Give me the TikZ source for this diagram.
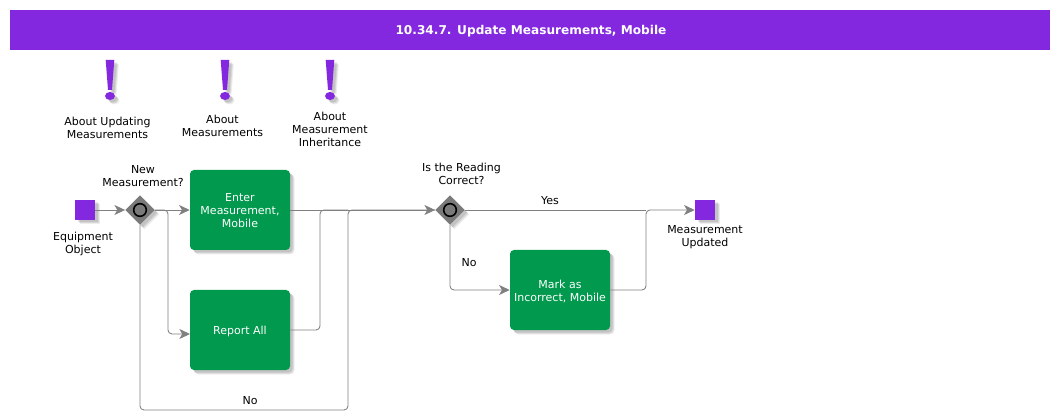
\documentclass[tikz,border=0pt]{standalone}
\usepackage{fontspec}
\setmainfont{DejaVu Sans}
\usetikzlibrary{shapes.geometric,arrows.meta,shadows}
\definecolor{bpurple}{HTML}{8428E0}
\definecolor{bgreen}{HTML}{00994D}
\definecolor{bline}{HTML}{808080}
\definecolor{bgate}{HTML}{7A7A7A}
\tikzset{
  softshadow/.style={
    general shadow={shadow xshift=4.5,shadow yshift=4.5,fill=black,opacity=.07},
    general shadow={shadow xshift=3.5,shadow yshift=3.5,fill=black,opacity=.09},
    general shadow={shadow xshift=2.5,shadow yshift=2.5,fill=black,opacity=.09}},
  lbl/.style={font=\fontsize{8.25}{9.75}\selectfont,align=center,inner sep=0pt,text=black},
  tasktext/.style={lbl,text=white},
  taskbox/.style={draw=none,fill=bgreen,rounded corners=3,minimum width=75pt,minimum height=60pt,inner sep=0pt,softshadow},
  endsquare/.style={draw=none,fill=bpurple,minimum size=15pt,inner sep=0pt,softshadow},
  gate/.style={diamond,aspect=1,draw=none,fill=bgate,minimum size=22pt,inner sep=0pt,softshadow},
  gatering/.style={circle,draw=black,line width=1.2pt,fill=bgate,minimum size=9.5pt,inner sep=0pt},
  flow/.style={draw=bline,line width=.65pt,rounded corners=3},
  arrowflow/.style={flow,-{Stealth[length=8pt,width=7.5pt,inset=2.2pt]}},
  markshape/.style={fill=bpurple,draw=none,softshadow}
}
\newcommand{\exclaim}[1]{%
  \begin{scope}[shift={(#1,0)}]
    \path[markshape] (-4.3,60) -- (4.3,60) -- (2,90) -- (-2,90) -- cycle;
    \path[markshape] (0,96) ellipse [x radius=5,y radius=4];
  \end{scope}}
\begin{document}
\begin{tikzpicture}[x=.75pt,y=-.75pt]
\useasboundingbox (0,0) rectangle (1060,420);
\fill[white] (0,0) rectangle (1060,420);
\node[fill=bpurple,minimum width=780pt,minimum height=30pt,inner sep=0pt] (title) at (530,30) {};
\node[text=white,inner sep=0pt,font=\fontsize{9.1}{12}\selectfont\bfseries] (titletext) at (531,31) {10.34.7. Update Measurements, Mobile};

\exclaim{110}\exclaim{225}\exclaim{330}
\node[lbl] (m1) at (107.5,128) {About Updating\\Measurements};
\node[lbl] (m2) at (222.5,126) {About\\Measurements};
\node[lbl] (m3) at (330,129.5) {About\\Measurement\\Inheritance};

\node[endsquare] (start) at (85,210) {};
\node[gate] (gw1) at (140,210) {};
\node[gatering] (ring1) at (140,210) {};
\node[taskbox] (enter) at (240,210) {};
\node[tasktext] (entert) at (240,211) {Enter\\Measurement,\\Mobile};
\node[taskbox] (report) at (240,330) {};
\node[tasktext] (reportt) at (240,331) {Report All};
\node[gate] (gw2) at (450,210) {};
\node[gatering] (ring2) at (450,210) {};
\node[taskbox] (mark) at (560,290) {};
\node[tasktext] (markt) at (560,291) {Mark as\\Incorrect, Mobile};
\node[endsquare] (finish) at (705,210) {};

\node[lbl] (l1) at (83,243.5) {Equipment\\Object};
\node[lbl] (l2) at (143,176.5) {New\\Measurement?};
\node[lbl] (l3) at (461.5,173.5) {Is the Reading\\Correct?};
\node[lbl] (l4) at (705,237) {Measurement\\Updated};
\node[lbl] (yes) at (550,200.5) {Yes};
\node[lbl] (no1) at (469,262.5) {No};
\node[lbl] (no2) at (250,400.5) {No};

\coordinate (c1) at (168,210);
\coordinate (c2) at (140,410);
\coordinate (c3) at (348,410);
\coordinate (c4) at (348,210);
\coordinate (c5) at (320,330);
\coordinate (c6) at (320,210);
\coordinate (c7) at (646,290);
\coordinate (c8) at (646,210);
\coordinate (c9) at (168,334);
\coordinate (c10) at (190,334);

\draw[arrowflow] (start) -- (gw1);
\draw[arrowflow] (gw1) -- (enter);
\draw[arrowflow] (gw1) -- (c1) -- (c9) -- (c10);
\draw[flow] (enter) -- (c6);
\draw[flow] (report) -- (c5) -- (c6) -- (c4);
\draw[flow] (gw1) -- (c2) -- (c3) -- (c4) -- (gw2);
\draw[arrowflow] (c6) -- (gw2);
\draw[flow] (gw2) -- (c8);
\draw[arrowflow] (gw2) |- (mark);
\draw[arrowflow] (mark) -- (c7) -- (c8) -- (finish);
\end{tikzpicture}
\end{document}
